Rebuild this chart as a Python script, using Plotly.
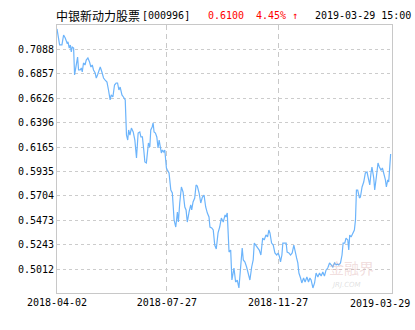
import plotly.graph_objects as go

# ---- data ----
days = [0.0, 1.2, 1.9, 3.6, 4.8, 6.0, 7.3, 8.0, 8.9, 9.7, 10.4, 11.1, 12.1, 12.8, 14.0, 15.0, 15.7, 16.9, 17.7, 18.4,
        19.3, 20.4, 21.3, 22.5, 23.7, 24.7, 25.7, 26.6, 27.8, 28.6, 29.5, 30.8, 31.5, 32.7, 33.9, 35.1, 36.4, 37.5, 38.7, 39.5,
        40.7, 41.9, 43.1, 44.1, 45.1, 46.0, 47.3, 48.4, 49.7, 50.6, 51.5, 52.2, 53.1, 54.2, 55.5, 56.7, 57.9, 59.1, 60.3, 61.1,
        62.2, 63.2, 64.0, 65.1, 65.9, 66.6, 67.6, 68.3, 69.3, 70.0, 70.7, 71.7, 72.7, 73.6, 74.4, 75.3, 76.0, 76.8, 77.8, 78.5,
        79.0, 79.7, 80.4, 81.6, 82.9, 84.0, 85.3, 86.5, 87.7, 88.4, 89.4, 90.6, 91.8, 93.1, 94.0, 94.9, 96.2, 97.4, 98.1, 99.1,
        100.3, 101.3, 102.2, 103.5, 104.7, 105.9, 107.1, 108.3, 109.5, 110.7, 111.4, 112.7, 113.8, 114.9, 116.0, 117.3, 118.5, 119.7, 121.1, 122.4,
        123.1, 124.0, 125.3, 126.5, 127.4, 128.9, 130.1, 131.3, 132.5, 133.8, 134.9, 135.7, 136.9, 138.1, 139.3, 140.5, 141.8, 142.9, 143.7, 144.9,
        146.1, 147.3, 148.5, 149.8, 150.9, 152.2, 153.4, 154.3, 155.1, 156.3, 157.5, 158.7, 160.0, 161.1, 162.1, 162.8, 163.8, 164.5, 165.8, 166.9,
        167.6, 168.9, 170.1, 171.3, 172.5, 173.5, 174.5, 175.4, 176.2, 177.4, 178.3, 179.6, 180.7, 182.0, 183.2, 184.2, 185.1, 186.4, 187.6, 188.7,
        190.0, 191.2, 192.4, 193.6, 194.8, 196.0, 197.2, 198.5, 199.6, 200.9, 202.1, 203.3, 204.0, 205.2, 206.5, 207.6, 208.4, 209.6, 210.5, 211.8,
        212.5, 213.2, 214.2, 215.4, 216.6, 217.4, 218.1, 219.0, 220.3, 221.0, 222.2, 223.4, 224.6, 225.8, 226.5, 227.8, 228.7, 229.4, 230.7, 231.4,
        232.6, 233.8, 234.8, 236.0, 237.0, 238.0, 239.2, 239.9, 240.9, 241.6, 243.0]
nav = [0.7280, 0.7195, 0.7129, 0.7129, 0.7223, 0.7195, 0.7148, 0.7157, 0.7100, 0.7129, 0.7063, 0.7110, 0.7100, 0.6846, 0.6959, 0.7015, 0.6893, 0.6893, 0.6912, 0.6874,
       0.6959, 0.6940, 0.6987, 0.7006, 0.6968, 0.6921, 0.6940, 0.6893, 0.6864, 0.6817, 0.6846, 0.6912, 0.6921, 0.6874, 0.6817, 0.6798, 0.6779, 0.6704, 0.6610, 0.6657,
       0.6638, 0.6751, 0.6770, 0.6770, 0.6704, 0.6732, 0.6657, 0.6638, 0.6610, 0.6279, 0.6232, 0.6327, 0.6279, 0.6345, 0.6308, 0.6232, 0.6062, 0.6298, 0.6308, 0.6261,
       0.6261, 0.6138, 0.6025, 0.6015, 0.6166, 0.6204, 0.6166, 0.6327, 0.6355, 0.6393, 0.6308, 0.6298, 0.6261, 0.6157, 0.6232, 0.6166, 0.6110, 0.6138, 0.6119, 0.6138,
       0.6015, 0.5968, 0.5949, 0.5921, 0.5760, 0.5732, 0.5477, 0.5411, 0.5553, 0.5458, 0.5638, 0.5789, 0.5742, 0.5600, 0.5572, 0.5458, 0.5553, 0.5619, 0.5572, 0.5647,
       0.5685, 0.5808, 0.5798, 0.5732, 0.5638, 0.5694, 0.5713, 0.5600, 0.5543, 0.5506, 0.5411, 0.5402, 0.5383, 0.5241, 0.5204, 0.5355, 0.5411, 0.5496, 0.5458, 0.5525,
       0.5506, 0.5543, 0.5175, 0.5194, 0.4911, 0.5024, 0.4892, 0.4911, 0.4836, 0.5081, 0.5213, 0.5100, 0.5081, 0.5034, 0.4958, 0.4911, 0.5034, 0.5100, 0.5260, 0.5241,
       0.5223, 0.5194, 0.5147, 0.5307, 0.5289, 0.5336, 0.5317, 0.5383, 0.5355, 0.5260, 0.5241, 0.5166, 0.5147, 0.5166, 0.5128, 0.5081, 0.5147, 0.5260, 0.5260, 0.5260,
       0.5175, 0.5166, 0.5147, 0.5166, 0.5241, 0.5166, 0.5119, 0.5072, 0.4977, 0.4930, 0.4883, 0.4930, 0.4892, 0.4939, 0.4892, 0.4930, 0.4911, 0.4836, 0.4883, 0.4977,
       0.4939, 0.4977, 0.4949, 0.4987, 0.4949, 0.5006, 0.5024, 0.5072, 0.5053, 0.5034, 0.5072, 0.5053, 0.5062, 0.5053, 0.5072, 0.5147, 0.5260, 0.5260, 0.5307, 0.5289,
       0.5194, 0.5336, 0.5317, 0.5355, 0.5383, 0.5477, 0.5760, 0.5760, 0.5685, 0.5694, 0.5789, 0.5836, 0.5921, 0.5930, 0.5883, 0.5808, 0.5921, 0.5977, 0.5874, 0.5760,
       0.5883, 0.6015, 0.5977, 0.5949, 0.5968, 0.5921, 0.5855, 0.5789, 0.5855, 0.5836, 0.6100]

y_ticks = [0.5012, 0.5243, 0.5473, 0.5704, 0.5935, 0.6165, 0.6396, 0.6626, 0.6857, 0.7088]
x_tick_days = [0, 80, 161]
x_tick_labels = ["2018-04-02", "2018-07-27", "2018-11-27"]
last_day = 244
last_label = "2019-03-29"

fund_name = "中银新动力股票"
fund_code = "[000996]"
last_nav = "0.6100"
change = "4.45% ↑"
stamp = "2019-03-29 15:00"

MONO = "DejaVu Sans Mono"
CJK = "Noto Sans CJK SC"

W, H = 415, 330
L, R, T, B = 57, 23, 25, 37
PW = W - L - R
PH = H - T - B


def px(xp):
    return (xp - L) / PW


def py(yp):
    return (H - B - yp) / PH


fig = go.Figure()
fig.add_trace(go.Scatter(x=days, y=nav, mode="lines",
                         line=dict(color="#6cb4fb", width=1.2),
                         hoverinfo="skip", showlegend=False))

fig.update_layout(
    width=W, height=H,
    margin=dict(l=L, r=R, t=T, b=B, pad=0),
    paper_bgcolor="white", plot_bgcolor="white",
    font=dict(family=MONO, size=10, color="black"),
    showlegend=False,
    xaxis=dict(range=[0, last_day], tickvals=x_tick_days, ticktext=x_tick_labels,
               showgrid=True, gridcolor="#c8c8c8", griddash="5px,4px", gridwidth=1,
               showline=True, linecolor="#c8c8c8", linewidth=1, mirror=True,
               ticks="", zeroline=False, tickfont=dict(family=MONO, size=10, color="black")),
    yaxis=dict(range=[0.47885, 0.73173], tickvals=y_ticks, ticktext=[f"{v:.4f}" for v in y_ticks],
               showgrid=True, gridcolor="#cccccc", griddash="3px,3px", gridwidth=1,
               showline=True, linecolor="#c8c8c8", linewidth=1, mirror=True,
               ticks="", zeroline=False, tickfont=dict(family=MONO, size=10, color="black")),
)

ann = []
# last x label shifted left to stay inside
ann.append(dict(x=last_day, y=0, xref="x", yref="paper", text=last_label, showarrow=False,
                xanchor="right", yanchor="top", xshift=20, yshift=-3,
                font=dict(family=MONO, size=10, color="black")))
# title pieces
ty = py(15)
ann.append(dict(x=px(54), y=ty, xref="paper", yref="paper", text=fund_name, showarrow=False,
                xanchor="left", yanchor="middle", font=dict(family=CJK, size=12, color="black")))
ann.append(dict(x=px(140), y=ty, xref="paper", yref="paper", text=fund_code, showarrow=False,
                xanchor="left", yanchor="middle", font=dict(family=MONO, size=10, color="black")))
ann.append(dict(x=px(205.5), y=ty, xref="paper", yref="paper", text=last_nav, showarrow=False,
                xanchor="left", yanchor="middle", font=dict(family=MONO, size=10, color="#ff0000")))
ann.append(dict(x=px(254), y=ty, xref="paper", yref="paper", text=change, showarrow=False,
                xanchor="left", yanchor="middle", font=dict(family=MONO, size=10, color="#ff0000")))
ann.append(dict(x=px(313), y=ty, xref="paper", yref="paper", text=stamp, showarrow=False,
                xanchor="left", yanchor="middle", font=dict(family=MONO, size=10, color="black")))
# watermark
ann.append(dict(x=px(327), y=py(267), xref="paper", yref="paper", text="金融界", showarrow=False,
                xanchor="left", yanchor="middle", font=dict(family=CJK, size=15, color="rgba(220,170,170,0.4)")))
ann.append(dict(x=px(329), y=py(285), xref="paper", yref="paper", text="<i>JRJ.COM</i>", showarrow=False,
                xanchor="left", yanchor="middle", font=dict(family="DejaVu Sans", size=7, color="rgba(200,200,200,0.55)")))
fig.update_layout(annotations=ann)

fig.write_html("out.html")
